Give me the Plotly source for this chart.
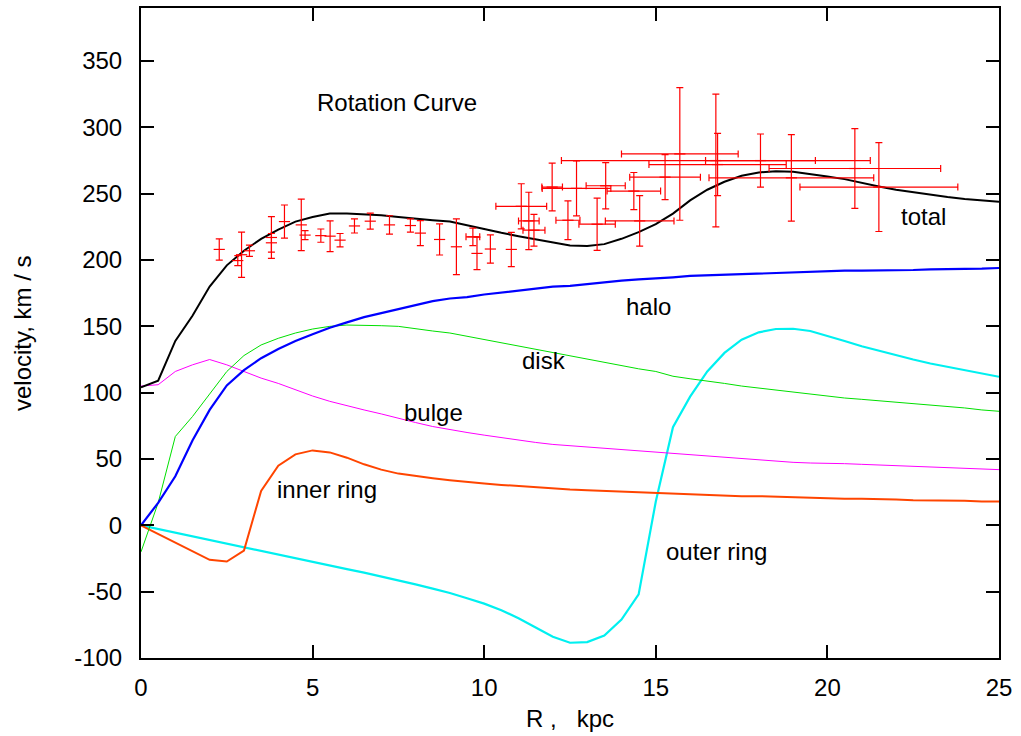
import plotly.graph_objects as go

# Model grid (kpc)
R_model = [0, 0.5, 1, 1.5, 2, 2.5, 3, 3.5, 4, 4.5, 5, 5.5, 6, 6.5, 7, 7.5, 8, 8.5, 9, 9.5,
           10, 10.5, 11, 11.5, 12, 12.5, 13, 13.5, 14, 14.5, 15, 15.5, 16, 16.5, 17, 17.5,
           18, 18.5, 19, 19.5, 20, 20.5, 21, 21.5, 22, 22.5, 23, 23.5, 24, 24.5, 25]

v_total = [104, 109, 139, 158, 180, 196, 207, 216, 223, 229, 232.5, 235, 235, 234.5, 233.7, 232.5,
           231, 230, 229, 226, 223, 220.5, 218, 215.5, 213, 211, 210.5, 212, 216, 221, 227, 235,
           245, 253, 259, 263.5, 266, 267, 266.5, 265, 263, 261, 258, 255.5, 253, 251, 249, 247.5,
           246, 245, 244]

v_halo = [0, 17, 37, 64, 87, 105.5, 117, 126, 133, 139, 144, 149, 153, 157, 160, 163, 166, 169,
          171, 172, 174, 175.5, 177, 178.5, 180, 180.5, 182, 183, 184.5, 185.5, 186, 187, 188,
          188.5, 189, 189.5, 190, 190.5, 191, 191.5, 191.5, 192, 192, 192, 192.5, 192.5, 193,
          193, 193.5, 193.5, 194]

v_disk = [-20, 17, 67, 82, 99, 116, 128, 136, 141, 145, 148, 150, 151, 151, 150.5, 150, 148, 146.5,
          145, 142.5, 140, 137.5, 135, 132.5, 130, 127.5, 125, 122.5, 120, 118, 116, 112.4, 110.5,
          109, 107, 105, 103.5, 102, 100, 98.5, 97, 96, 95, 94, 93, 92, 91, 90, 88.5, 87, 86]

v_bulge = [105, 106, 116, 121, 125, 121, 116, 111, 107, 102, 97.5, 93.5, 90, 87, 84, 80.5, 77.5,
           74.5, 72, 70, 68, 66, 64.5, 62.5, 61, 60, 59, 58, 57, 56, 55, 54, 53, 52, 51, 50, 49,
           48, 47.5, 47, 47, 46.5, 46, 45.5, 45, 44.5, 44, 43.5, 43, 42.5, 42]

v_inner = [0, -6.5, -13, -19.5, -26, -27.3, -19, 26, 45, 53.5, 56.5, 55, 51, 46, 42, 39, 37, 35.5,
           34, 32.5, 31.5, 30.5, 29.5, 28.5, 28, 27, 26.5, 26, 25.5, 24.5, 24, 23.5, 23, 23, 22.5,
           22, 22, 21.5, 21, 21, 20.5, 20, 20, 20, 19.5, 19, 19, 19, 18.5, 18, 18]

v_outer = [0, -2.8, -5.5, -8.2, -11, -13.7, -16.5, -19.2, -22, -24.8, -27.5, -30.2, -33, -35.7,
           -38.5, -41.5, -44.5, -47.7, -51, -55, -59, -64, -70, -77, -84, -88.5, -88, -83, -71,
           -52, 18, 74, 97, 116, 130, 140, 145.5, 148, 148.2, 146.5, 143, 139, 135, 131.5, 128,
           125, 122, 119.5, 117, 114.5, 112]

# Observed rotation velocities without radial uncertainty
R_obs = [2.28, 2.82, 2.93, 3.16, 3.8, 3.8, 4.18, 4.67, 4.78, 5.24, 5.51, 5.8, 6.22, 6.68,
         7.24, 7.85, 8.14, 8.7, 9.19, 9.79, 10.18, 10.79]
v_obs = [208, 199.6, 204, 207, 217, 213, 229, 226.5, 218.8, 218.4, 218, 215, 225.7, 229.3,
         226.5, 226, 220.3, 215.5, 210, 205, 208.3, 208]
ev_obs = [8, 3.8, 17, 4.3, 15.7, 7, 12.5, 19.4, 3.4, 5, 11.6, 5, 5.3, 6,
          6.9, 5, 9.4, 11.7, 21, 12.2, 10.7, 12.9]

# Observed rotation velocities with radial uncertainty
R_obs2 = [9.67, 11.08, 11.3, 11.45, 11.98, 12.44, 12.69, 13.29, 13.54, 14.36, 14.53, 15.27,
          15.7, 16.75, 16.8, 18.05, 18.95, 20.8, 21.5]
v_obs2 = [217.5, 240.5, 229.5, 222.5, 255, 230, 254, 227, 256, 252, 229.5, 262.5,
          280, 275, 272, 275, 262, 269, 255]
ev_obs2 = [6.6, 17, 21.6, 12, 18, 14.6, 20.7, 19.7, 17.5, 14, 19, 17,
           50, 50, 23.5, 20, 32.6, 30, 33.5]
eR_obs2 = [0.2, 0.74, 0.3, 0.32, 0.3, 0.35, 1.0, 0.53, 0.57, 0.78, 1.0, 1.03,
           1.7, 4.5, 2.0, 1.6, 2.4, 2.5, 2.3]

# Axis ticks
x_ticks = [0, 5, 10, 15, 20, 25]
y_ticks = [-100, -50, 0, 50, 100, 150, 200, 250, 300, 350]
y_ticktext = ["-100", "-50", "0", "50", "100", "150", "200", "250", "300", "350"]

FONT = "Liberation Sans, Arial, sans-serif"
FS = 24

fig = go.Figure()

curves = [
    (v_outer, "#00f0f0", 2.2),
    (v_inner, "#ff4500", 2.0),
    (v_bulge, "#ff00ff", 1.0),
    (v_disk, "#00e000", 1.0),
    (v_halo, "#0000ff", 2.2),
    (v_total, "#000000", 2.0),
]
for v, col, w in curves:
    fig.add_trace(go.Scatter(x=R_model, y=v, mode="lines",
                             line=dict(color=col, width=w), hoverinfo="skip"))

fig.add_trace(go.Scatter(
    x=R_obs, y=v_obs, mode="markers",
    marker=dict(symbol="line-ew", size=8, line=dict(color="red", width=1.2)),
    error_y=dict(type="data", array=ev_obs, color="red", thickness=1.2, width=3.5),
))
fig.add_trace(go.Scatter(
    x=R_obs2, y=v_obs2, mode="markers",
    marker=dict(symbol="line-ew", size=8, line=dict(color="red", width=1.2)),
    error_y=dict(type="data", array=ev_obs2, color="red", thickness=1.2, width=3.5),
    error_x=dict(type="data", array=eR_obs2, color="red", thickness=1.2, width=3.5),
))

labels = [
    (7.47, 319, "Rotation Curve"),
    (22.8, 233, "total"),
    (14.8, 165, "halo"),
    (11.73, 124, "disk"),
    (8.52, 85, "bulge"),
    (5.43, 27, "inner ring"),
    (16.78, -20, "outer ring"),
]
for x, y, t in labels:
    fig.add_annotation(x=x, y=y, text=t, showarrow=False,
                       font=dict(family=FONT, size=FS, color="black"))

fig.add_annotation(xref="paper", yref="paper", x=0.5, y=0, yanchor="top", yshift=-45,
                   text="R ,\u00a0\u00a0\u00a0kpc", showarrow=False,
                   font=dict(family=FONT, size=FS, color="black"))
fig.add_annotation(xref="paper", yref="paper", x=0, y=0.5, xanchor="center", xshift=-119,
                   text="velocity, km / s", textangle=-90, showarrow=False,
                   font=dict(family=FONT, size=FS, color="black"))

axis_common = dict(showgrid=False, zeroline=False, showline=True, linecolor="black",
                   linewidth=2, mirror="ticks", ticks="inside", ticklen=13, tickwidth=1.5,
                   tickcolor="black", tickfont=dict(family=FONT, size=FS, color="black"))

fig.update_layout(
    width=1021, height=736,
    margin=dict(l=141, r=22, t=6, b=78),
    paper_bgcolor="white", plot_bgcolor="white",
    showlegend=False,
    xaxis=dict(range=[0, 25], tickvals=x_ticks, ticklabelstandoff=7, **axis_common),
    yaxis=dict(range=[-100, 390], tickvals=y_ticks, ticktext=y_ticktext,
               ticklabelstandoff=12, **axis_common),
)

fig.write_html("out.html")
